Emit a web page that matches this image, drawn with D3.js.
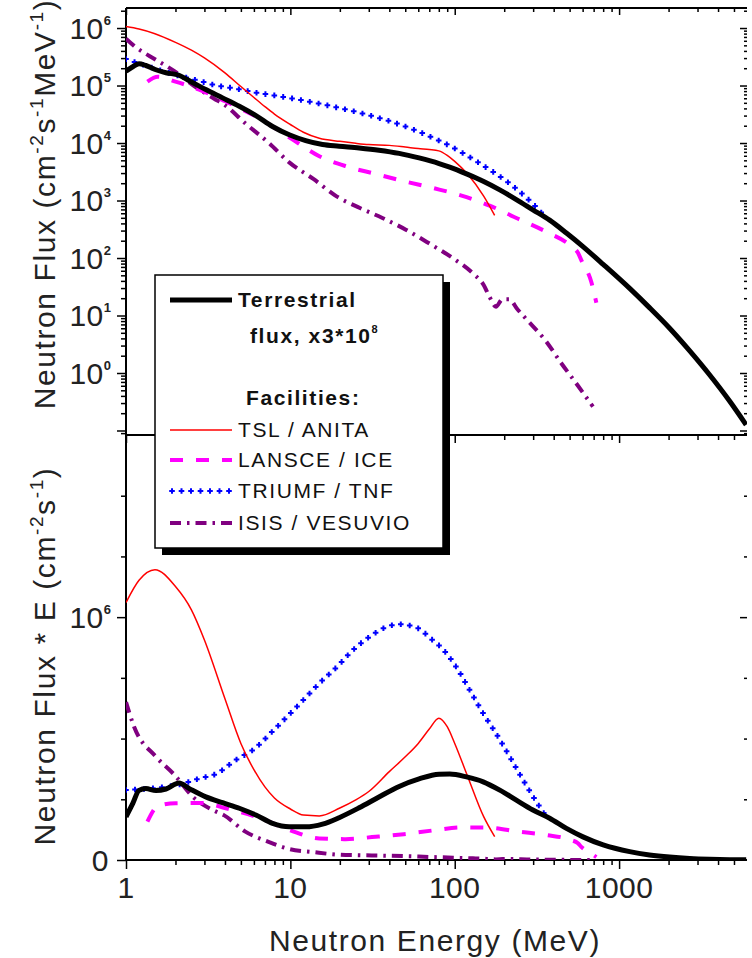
<!DOCTYPE html>
<html>
<head>
<meta charset="utf-8">
<script src="https://cdn.jsdelivr.net/npm/d3@7"></script>
<style>
  body { margin: 0; background: #fff; }
  svg { display: block; font-family: 'Liberation Sans', Arial, sans-serif; }
</style>
</head>
<body>
<svg width="752" height="958"></svg>
<script>
// [energy MeV, flux cm-2 s-1 MeV-1]
const terrData = [[1,1.78e5],[1.1,2.12e5],[1.2,2.39e5],[1.32,2.23e5],[1.52,1.88e5],[1.75,1.67e5],
  [2.1,1.51e5],[2.43,1.21e5],[3.06,8.5e4],[3.87,6.1e4],[4.89,4.36e4],[6.17,3.0e4],[7.79,1.94e4],
  [9.84,1.39e4],[12.4,1.1e4],[15.7,9.4e3],[19.8,8.8e3],[26.2,8.2e3],[34.6,7.5e3],[45.9,6.6e3],
  [60.7,5.5e3],[80.3,4.4e3],[93.2,3.8e3],[118,2.9e3],[149,2.16e3],[188,1.53e3],[237,1.04e3],
  [299,689],[378,455],[478,272],[603,158],[800,77.6],[1160,29.6],[1530,13.7],[2030,6.0],
  [2690,2.42],[3550,0.93],[4700,0.325],[5930,0.125]];
const tslData = [[1,1.06e6],[1.2,9.6e5],[1.5,7.97e5],[2,5.63e5],[2.5,4.12e5],[3,3.02e5],[4,1.66e5],
  [5,9.6e4],[6,6.2e4],[7,4.3e4],[8,3.19e4],[10,2.1e4],[12,1.54e4],[15,1.21e4],[20,1.07e4],
  [25,9.9e3],[30,9.4e3],[40,9.1e3],[50,8.5e3],[60,8.0e3],[70,7.7e3],[80,7.3e3],[90,6.1e3],
  [100,4.8e3],[120,2.86e3],[150,1.19e3],[175,550]];
const lansceData = [[1.35,1.17e5],[1.56,1.42e5],[2,1.17e5],[2.9,8.1e4],[4.05,5.26e4],[6.5,2.66e4],
  [10,1.22e4],[15,5.9e3],[21.7,3.96e3],[33,2.9e3],[49,2.17e3],[75,1.63e3],[110,1.22e3],[163,816],
  [243,481],[361,285],[512,160],[562,123],[589,92],[677,38.7],[727,16.7]];
const triumfData = [[1,2.88e5],[2.1,1.48e5],[2.8,1.2e5],[3.5,1.01e5],[4.7,8.8e4],[6,7.6e4],
  [7.8,6.8e4],[9.8,6.1e4],[12.4,5.4e4],[15,4.85e4],[19,4.17e4],[24,3.6e4],[31,2.98e4],[40,2.41e4],
  [46,2.11e4],[61,1.56e4],[70,1.31e4],[85,1.02e4],[102,7.8e3],[123,5.7e3],[149,4.05e3],
  [179,2.9e3],[216,1.97e3],[260,1.27e3],[300,870],[350,545]];
const isisData = [[1,6.5e5],[1.12,4.9e5],[1.52,2.8e5],[1.97,1.78e5],[2.6,9.8e4],[3.44,5.9e4],
  [3.96,4.64e4],[5.29,2.23e4],[7.43,9.9e3],[9.84,4.6e3],[13.8,2.37e3],[19.1,1.18e3],[26.5,741],
  [36.3,497],[50.4,311],[69.8,180],[97.7,98.8],[129,54],[150,34],[163,21],[178,14.2],[195,19.1],
  [215,19.1],[240,13],[275,8.4],[357,3.65],[445,1.48],[562,0.6],[693,0.26]];

const xTickLabels = [1, 10, 100, 1000];
const topTickExps = [0, 1, 2, 3, 4, 5, 6];
const botMinorTicks = [0.25e6, 0.5e6, 0.75e6, 1.25e6, 1.5e6];

const LEFT = 126, RIGHT = 747, TOP = 8, MID = 435, BOTTOM = 860;
const FONT = 30;
const PLUS_STEP = 9, PLUS_SIZE = 2.8;

const svg = d3.select('svg');

const x = d3.scaleLog().domain([1, 6000]).range([LEFT, RIGHT]);
const yTop = d3.scaleLog().domain([0.0835, 2.23e6]).range([MID, TOP]);
const yBot = d3.scaleLinear().domain([0, 1.75e6]).range([BOTTOM, MID]);

const series = [
  {data: isisData, color: '#800080', width: 4, dash: '11,6,2.5,6'},
  {data: lansceData, color: '#ff00ff', width: 4, dash: '13,13'},
  {data: triumfData, color: '#0000ff', width: 2, dash: null, plus: true},
  {data: tslData, color: '#ff0000', width: 1.5, dash: null},
  {data: terrData, color: '#000000', width: 5, dash: null}
];

const defs = svg.append('defs');
defs.append('clipPath').attr('id', 'clipTop').append('rect')
  .attr('x', LEFT).attr('y', TOP).attr('width', RIGHT - LEFT).attr('height', MID - TOP);
defs.append('clipPath').attr('id', 'clipBot').append('rect')
  .attr('x', LEFT).attr('y', MID).attr('width', RIGHT - LEFT).attr('height', BOTTOM - MID);

// minor tick positions for log axes
const logMinor = (lo, hi) => {
  const out = [];
  for (let k = -2; k <= 7; k++) {
    for (let m = 2; m <= 9; m++) {
      const v = m * Math.pow(10, k);
      if (v > lo && v < hi) out.push(v);
    }
  }
  return out;
};
const xMajor = [1, 10, 100, 1000];
const xMinor = logMinor(1, 6000);
const yTopMajor = [0.1, 1, 10, 100, 1e3, 1e4, 1e5, 1e6];
const yTopMinor = logMinor(0.0835, 2.23e6);

function addTicks(axisFn, scale, values, size, transform) {
  const g = svg.append('g')
    .attr('transform', transform)
    .call(axisFn(scale).tickValues(values).tickSize(size).tickFormat(''));
  g.select('.domain').remove();
  g.selectAll('line').attr('stroke', '#000').attr('stroke-width', 1.5);
}

// x ticks: top border (in), divider (down), bottom axis (out)
[['translate(0,' + TOP + ')', 7, 4], ['translate(0,' + MID + ')', 8, 5],
 ['translate(0,' + BOTTOM + ')', 9, 5]].forEach(t => {
  addTicks(d3.axisBottom, x, xMajor, t[1], t[0]);
  addTicks(d3.axisBottom, x, xMinor, t[2], t[0]);
});
// y ticks top panel
addTicks(d3.axisLeft, yTop, yTopMajor, 9, 'translate(' + LEFT + ',0)');
addTicks(d3.axisLeft, yTop, yTopMinor, 5, 'translate(' + LEFT + ',0)');
addTicks(d3.axisLeft, yTop, yTopMajor, 7, 'translate(' + RIGHT + ',0)');
addTicks(d3.axisLeft, yTop, yTopMinor, 3, 'translate(' + RIGHT + ',0)');
// y ticks bottom panel
addTicks(d3.axisLeft, yBot, [0, 1e6], 9, 'translate(' + LEFT + ',0)');
addTicks(d3.axisLeft, yBot, botMinorTicks, 5, 'translate(' + LEFT + ',0)');
addTicks(d3.axisLeft, yBot, [1e6], 7, 'translate(' + RIGHT + ',0)');
addTicks(d3.axisLeft, yBot, botMinorTicks, 3, 'translate(' + RIGHT + ',0)');

// frame lines
const frame = svg.append('g').attr('stroke', '#000').attr('stroke-width', 2);
frame.append('line').attr('x1', LEFT).attr('x2', LEFT).attr('y1', TOP).attr('y2', BOTTOM);
frame.append('line').attr('x1', LEFT).attr('x2', RIGHT).attr('y1', TOP).attr('y2', TOP);
frame.append('line').attr('x1', LEFT).attr('x2', RIGHT).attr('y1', MID).attr('y2', MID);
frame.append('line').attr('x1', LEFT).attr('x2', RIGHT).attr('y1', BOTTOM).attr('y2', BOTTOM);

// curves
const lineTop = d3.line().x(d => x(d[0])).y(d => yTop(d[1])).curve(d3.curveMonotoneX);
const lineBot = d3.line().x(d => x(d[0])).y(d => yBot(d[0] * d[1])).curve(d3.curveMonotoneX);

// "+" marks spaced along a drawn path
const plusMarks = (pathNode, start, step) => {
  const len = pathNode.getTotalLength();
  let d = '';
  for (let s = start; s <= len; s += step) {
    const p = pathNode.getPointAtLength(s);
    d += 'M' + (p.x - PLUS_SIZE) + ',' + p.y + 'h' + (2 * PLUS_SIZE) +
         'M' + p.x + ',' + (p.y - PLUS_SIZE) + 'v' + (2 * PLUS_SIZE);
  }
  return d;
};

const drawSeries = (gen, clip) => {
  const g = svg.append('g').attr('clip-path', 'url(#' + clip + ')');
  series.forEach(s => {
    const path = g.append('path')
      .attr('d', gen(s.data))
      .attr('fill', 'none')
      .attr('stroke', s.color)
      .attr('stroke-width', s.width)
      .attr('stroke-dasharray', s.dash)
      .attr('stroke-linejoin', 'round');
    if (s.plus) {
      g.append('path')
        .attr('d', plusMarks(path.node(), 0, PLUS_STEP))
        .attr('fill', 'none').attr('stroke', s.color).attr('stroke-width', s.width);
      path.attr('stroke', 'none');
    }
  });
};
drawSeries(lineTop, 'clipTop');
drawSeries(lineBot, 'clipBot');

// tick labels
const labels = svg.append('g').attr('fill', '#222').attr('font-size', FONT)
  .attr('letter-spacing', 0.5);
labels.selectAll('.xlab').data(xTickLabels).enter().append('text')
  .attr('x', d => x(d)).attr('y', 898).attr('text-anchor', 'middle').text(d => d);

const supLabel = (ty, exp) => {
  const t = labels.append('text').attr('x', 111).attr('y', ty + 10.5).attr('text-anchor', 'end');
  t.append('tspan').text('10');
  t.append('tspan').attr('dy', -14).attr('font-size', 13).attr('font-weight', 'bold')
    .attr('letter-spacing', 0).text(exp);
};
topTickExps.forEach(e => supLabel(yTop(Math.pow(10, e)), e));
supLabel(yBot(1e6), 6);
labels.append('text').attr('x', 109).attr('y', yBot(0) + 10.5).attr('text-anchor', 'end').text('0');

// axis titles
const titles = svg.append('g').attr('fill', '#222').attr('font-size', FONT)
  .attr('letter-spacing', 1.6);
titles.append('text').attr('x', 435).attr('y', 951).attr('text-anchor', 'middle')
  .text('Neutron Energy (MeV)');

const rotTitle = (cy, parts) => {
  const t = titles.append('text')
    .attr('transform', 'translate(55,' + cy + ') rotate(-90)')
    .attr('text-anchor', 'middle');
  parts.forEach(p => {
    const ts = t.append('tspan').text(p[0]);
    if (p[1]) ts.attr('font-size', 19).attr('dy', -12);
    else if (p[2]) ts.attr('dy', 12);
  });
};
rotTitle(204, [['Neutron Flux (cm'], ['-2', true], ['s', false, true], ['-1', true],
  ['MeV', false, true], ['-1', true], [')', false, true]]);
rotTitle(656, [['Neutron Flux * E (cm'], ['-2', true], ['s', false, true], ['-1', true],
  [')', false, true]]);

// legend
const legend = svg.append('g');
legend.append('rect').attr('x', 162).attr('y', 282).attr('width', 288).attr('height', 273)
  .attr('fill', '#000');
legend.append('rect').attr('x', 155).attr('y', 275).attr('width', 288).attr('height', 273)
  .attr('fill', '#fff').attr('stroke', '#000').attr('stroke-width', 1.5);

const legText = (tx, ty, str, bold) => legend.append('text')
  .attr('x', tx).attr('y', ty).attr('font-size', 21)
  .attr('font-weight', bold ? 'bold' : 'normal')
  .attr('letter-spacing', 1.6).attr('fill', '#111').text(str);

const legRows = [
  {s: series[4], y: 300, label: 'Terrestrial', bold: true},
  {s: series[3], y: 430, label: 'TSL / ANITA'},
  {s: series[1], y: 460, label: 'LANSCE / ICE'},
  {s: series[2], y: 491, label: 'TRIUMF / TNF'},
  {s: series[0], y: 523, label: 'ISIS / VESUVIO'}
];
legRows.forEach(r => {
  const ln = legend.append('line')
    .attr('x1', 170).attr('x2', 232).attr('y1', r.y).attr('y2', r.y)
    .attr('stroke', r.s.color).attr('stroke-width', r.s.width)
    .attr('stroke-dasharray', r.s.dash);
  if (r.s.plus) {
    legend.append('path').attr('d', plusMarks(ln.node(), 2, 9.5))
      .attr('fill', 'none').attr('stroke', r.s.color).attr('stroke-width', r.s.width);
    ln.attr('stroke', 'none');
  }
  legText(238, r.y + 7, r.label, r.bold);
});
const fluxTxt = legText(250, 343, 'flux, x3*10', true);
fluxTxt.append('tspan').attr('dy', -10).attr('font-size', 11).text('8');
legText(246, 405, 'Facilities:', true);
</script>
</body>
</html>
